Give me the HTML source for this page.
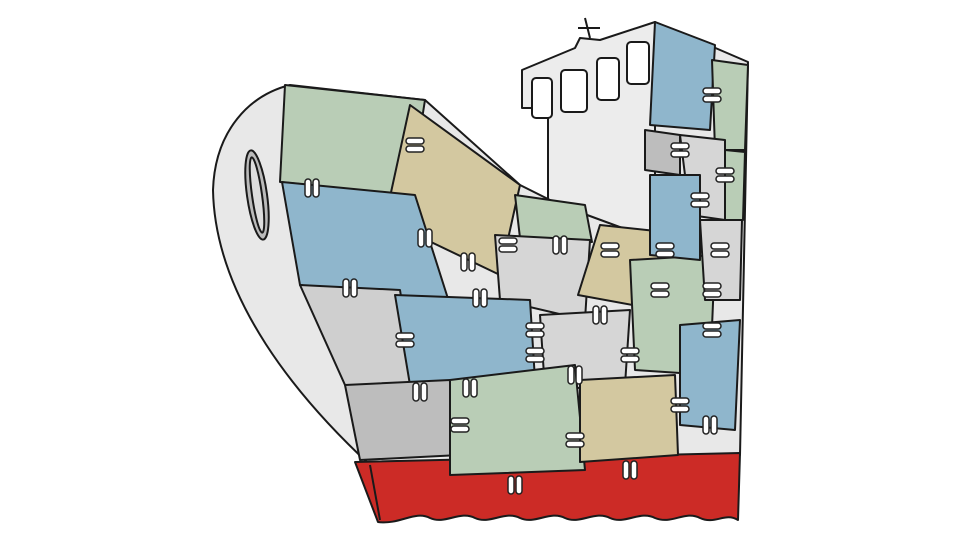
<!DOCTYPE html>
<html><head><meta charset="utf-8"><style>
html,body{margin:0;padding:0;background:#fff;}
svg{display:block}
</style></head><body>
<svg width="968" height="544" viewBox="0 0 968 544" xmlns="http://www.w3.org/2000/svg">
<defs>
<g id="st"><rect x="-3" y="-9" width="6" height="18" rx="3" fill="#fff" stroke="#222" stroke-width="1.5"/></g>
<g id="st2"><use href="#st" x="-4"/><use href="#st" x="4"/></g>
<g id="sth"><rect x="-9" y="-3" width="18" height="6" rx="3" fill="#fff" stroke="#222" stroke-width="1.5"/></g>
<g id="sth2"><use href="#sth" y="-4"/><use href="#sth" y="4"/></g>
</defs>
<g stroke="#1a1a1a" stroke-width="2" stroke-linejoin="round">
<!-- tower -->
<path d="M522,70 L575,48 L580,38 L600,40 L655,22 L660,240 L548,245 L548,108 L522,108 Z" fill="#ececec"/>
<path d="M585,18 L590,38 M578,28 L600,28" fill="none"/>
<rect x="532" y="78" width="20" height="40" rx="4" fill="#fff"/>
<rect x="561" y="70" width="26" height="42" rx="4" fill="#fff"/>
<rect x="597" y="58" width="22" height="42" rx="4" fill="#fff"/>
<rect x="627" y="42" width="22" height="42" rx="4" fill="#fff"/>
<!-- hull -->
<path d="M290,85 C250,95 215,130 213,190 C215,300 300,400 370,465 L740,455 L748,62 L655,22 L655,240 L560,205 L520,185 L425,100 Z" fill="#e8e8e8"/>
<ellipse cx="257" cy="195" rx="10" ry="45" transform="rotate(-8 257 195)" fill="#bbb"/>
<ellipse cx="257" cy="195" rx="5" ry="38" transform="rotate(-8 257 195)" fill="#ddd"/>
<!-- red -->
<path d="M355,462 L740,453 L738,520 C725,512 715,525 700,518 C685,510 672,525 655,518 C640,510 625,525 610,518 C595,510 580,525 565,518 C550,510 535,525 520,518 C505,510 490,525 475,518 C460,510 445,525 430,518 C415,510 400,525 378,522 Z" fill="#cc2b26"/>
<path d="M370,465 L380,520" fill="none"/>
<!-- patches -->
<path d="M285,85 L425,100 L410,195 L280,182 Z" fill="#b9cdb6"/>
<path d="M410,105 L520,185 L500,275 L385,220 Z" fill="#d3c8a0"/>
<path d="M282,182 L415,195 L450,305 L300,285 Z" fill="#8fb6cc"/>
<path d="M515,195 L585,205 L592,242 L520,238 Z" fill="#b9cdb6"/>
<path d="M495,235 L590,240 L585,320 L500,300 Z" fill="#d6d6d6"/>
<path d="M600,225 L665,232 L660,310 L578,295 Z" fill="#d3c8a0"/>
<path d="M300,285 L400,290 L415,385 L345,385 Z" fill="#cfcfcf"/>
<path d="M395,295 L530,300 L535,380 L410,385 Z" fill="#8fb6cc"/>
<path d="M630,260 L715,255 L710,375 L635,370 Z" fill="#b9cdb6"/>
<path d="M540,315 L630,310 L625,385 L545,390 Z" fill="#d6d6d6"/>
<path d="M345,385 L450,380 L460,455 L360,460 Z" fill="#bdbdbd"/>
<path d="M450,380 L575,365 L585,470 L450,475 Z" fill="#b9cdb6"/>
<path d="M580,380 L675,375 L678,455 L580,462 Z" fill="#d3c8a0"/>
<path d="M680,325 L740,320 L735,430 L680,425 Z" fill="#8fb6cc"/>
<path d="M655,22 L715,45 L710,130 L650,125 Z" fill="#8fb6cc"/>
<path d="M712,60 L748,65 L745,150 L715,150 Z" fill="#b9cdb6"/>
<path d="M645,130 L680,135 L680,175 L645,170 Z" fill="#bdbdbd"/>
<path d="M680,135 L725,140 L725,220 L690,215 Z" fill="#d6d6d6"/>
<path d="M725,150 L745,152 L743,220 L725,220 Z" fill="#b9cdb6"/>
<path d="M650,175 L700,175 L700,260 L650,255 Z" fill="#8fb6cc"/>
<path d="M700,220 L742,220 L740,300 L705,300 Z" fill="#d6d6d6"/>
</g>
<!-- staples -->
<use href="#sth2" x="415" y="145"/>
<use href="#st2" x="312" y="188"/>
<use href="#st2" x="425" y="238"/>
<use href="#st2" x="468" y="262"/>
<use href="#sth2" x="508" y="245"/>
<use href="#st2" x="350" y="288"/>
<use href="#st2" x="480" y="298"/>
<use href="#sth2" x="405" y="340"/>
<use href="#sth2" x="535" y="330"/>
<use href="#sth2" x="535" y="355"/>
<use href="#st2" x="420" y="392"/>
<use href="#st2" x="470" y="388"/>
<use href="#sth2" x="460" y="425"/>
<use href="#st2" x="575" y="375"/>
<use href="#st2" x="600" y="315"/>
<use href="#sth2" x="610" y="250"/>
<use href="#sth2" x="665" y="250"/>
<use href="#sth2" x="660" y="290"/>
<use href="#sth2" x="630" y="355"/>
<use href="#sth2" x="575" y="440"/>
<use href="#st2" x="630" y="470"/>
<use href="#st2" x="515" y="485"/>
<use href="#sth2" x="680" y="405"/>
<use href="#sth2" x="712" y="330"/>
<use href="#sth2" x="712" y="290"/>
<use href="#st2" x="710" y="425"/>
<use href="#sth2" x="712" y="95"/>
<use href="#sth2" x="680" y="150"/>
<use href="#sth2" x="725" y="175"/>
<use href="#sth2" x="700" y="200"/>
<use href="#sth2" x="720" y="250"/>
<use href="#st2" x="560" y="245"/>
</svg>
</body></html>
